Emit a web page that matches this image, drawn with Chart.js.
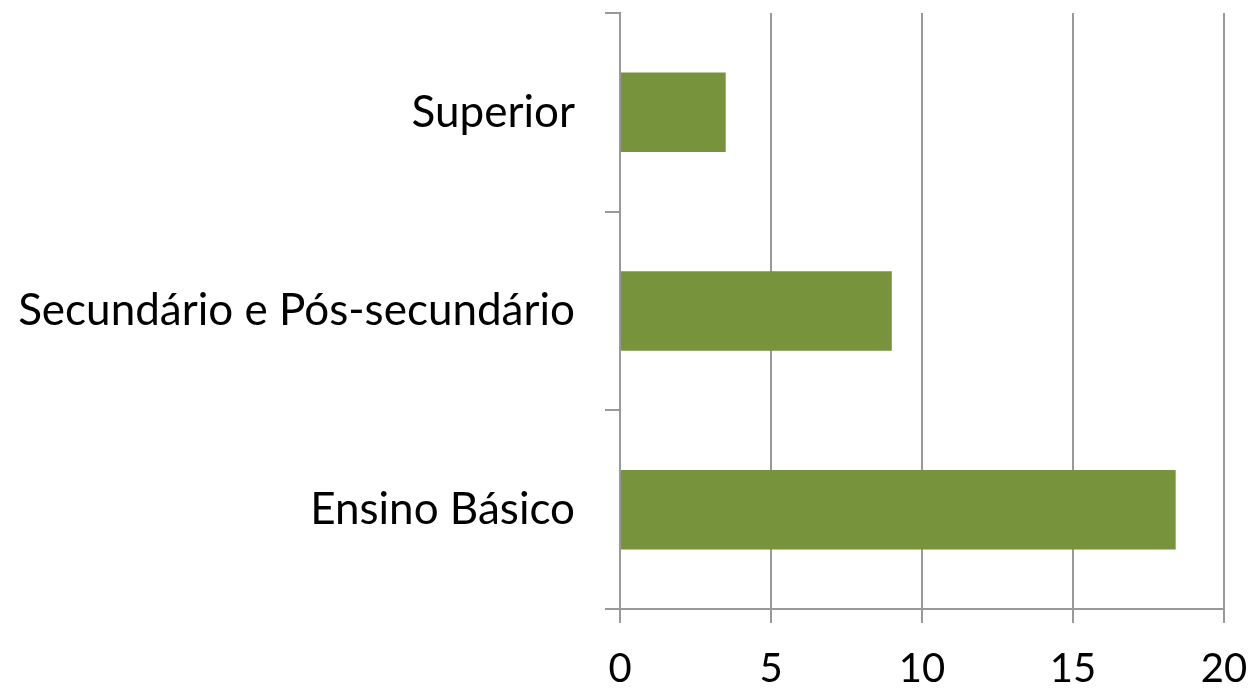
<!DOCTYPE html>
<html>
<head>
<meta charset="utf-8">
<script src="https://cdn.jsdelivr.net/npm/chart.js@4/dist/chart.umd.min.js"></script>
<style>
  html, body { margin: 0; padding: 0; background: #ffffff; }
  #wrap { width: 1254px; height: 691px; }
</style>
</head>
<body>
<div id="wrap"><canvas id="c" width="1254" height="691"></canvas></div>
<script>
// Níveis de escolaridade (de cima para baixo) e respetivos valores
const categories = ['Superior', 'Secundário e Pós-secundário', 'Ensino Básico'];
const values = [3.5, 9.0, 18.4];
const tickValues = [0, 5, 10, 15, 20];

const FONT = 'Lato, "Open Sans", sans-serif';
const AXIS_GREY = '#999999';

new Chart(document.getElementById('c'), {
  type: 'bar',
  data: {
    labels: categories,
    datasets: [{
      data: values,
      backgroundColor: '#77933C',
      borderWidth: 0,
      categoryPercentage: 0.8,
      barPercentage: 0.5
    }]
  },
  options: {
    indexAxis: 'y',
    responsive: false,
    animation: false,
    devicePixelRatio: 1,
    layout: { padding: { top: 13, right: 30, left: 0, bottom: 0 } },
    plugins: { legend: { display: false }, tooltip: { enabled: false } },
    scales: {
      x: {
        min: 0,
        max: 20,
        afterBuildTicks(scale) {
          scale.ticks = tickValues.map(v => ({ value: v }));
        },
        afterFit(scale) {
          scale.height = 82;
          scale.paddingLeft = 0;
          scale.paddingRight = 0;
        },
        border: { display: true, color: AXIS_GREY, width: 2 },
        grid: {
          color: AXIS_GREY,
          lineWidth: 2,
          drawTicks: true,
          tickLength: 14
        },
        ticks: {
          color: '#000000',
          font: { family: FONT, size: 40 },
          padding: 22,
          maxRotation: 0
        }
      },
      y: {
        afterFit(scale) {
          scale.width = 620;
          scale.paddingTop = 0;
          scale.paddingBottom = 0;
        },
        border: { display: true, color: AXIS_GREY, width: 2 },
        grid: {
          color: AXIS_GREY,
          lineWidth: 2,
          drawOnChartArea: false,
          drawTicks: true,
          tickLength: 15
        },
        ticks: {
          color: '#000000',
          font: { family: FONT, size: 44 },
          padding: 30
        }
      }
    }
  }
});
</script>
</body>
</html>
